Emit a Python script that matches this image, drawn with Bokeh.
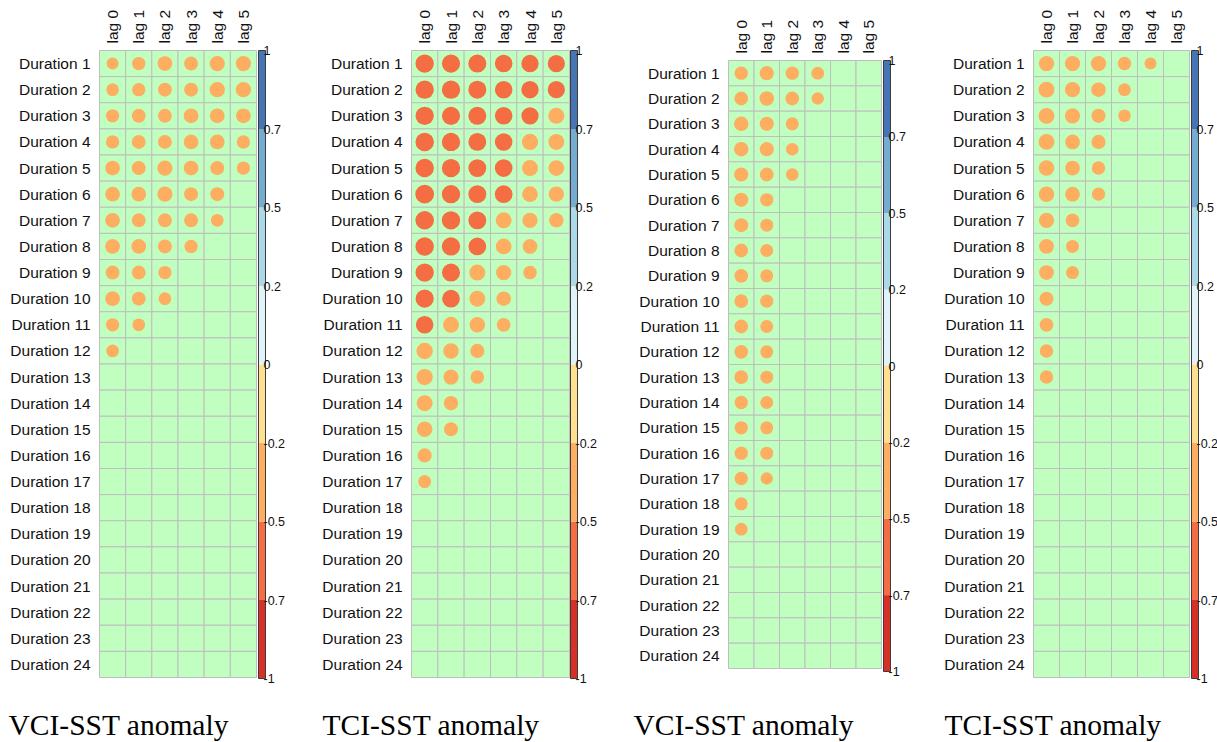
import numpy as np
from bokeh.plotting import figure
from bokeh.models import ColumnDataSource, Range1d
from bokeh.core.properties import value
from bokeh.layouts import row
from bokeh.embed import file_html
from bokeh.resources import INLINE

lags = ["lag 0", "lag 1", "lag 2", "lag 3", "lag 4", "lag 5"]
durations = ["Duration %d" % i for i in range(1, 25)]
titles = ["VCI-SST anomaly", "TCI-SST anomaly", "VCI-SST anomaly", "TCI-SST anomaly"]

# significant correlation coefficients per duration (row), starting at lag 0
vci_sst_a = [
    [-0.26, -0.32, -0.39, -0.35, -0.42, -0.42],
    [-0.29, -0.32, -0.35, -0.35, -0.42, -0.42],
    [-0.32, -0.35, -0.35, -0.39, -0.39, -0.39],
    [-0.32, -0.35, -0.35, -0.39, -0.39, -0.32],
    [-0.39, -0.35, -0.42, -0.39, -0.35, -0.32],
    [-0.39, -0.39, -0.42, -0.35, -0.35],
    [-0.39, -0.35, -0.35, -0.35, -0.29],
    [-0.39, -0.39, -0.35, -0.32],
    [-0.35, -0.35, -0.32],
    [-0.39, -0.35, -0.29],
    [-0.32, -0.29],
    [-0.29],
]
tci_sst_a = [
    [-0.60, -0.59, -0.58, -0.55, -0.54, -0.53],
    [-0.60, -0.60, -0.58, -0.55, -0.54, -0.53],
    [-0.60, -0.59, -0.58, -0.55, -0.53, -0.46],
    [-0.61, -0.60, -0.57, -0.55, -0.47, -0.45],
    [-0.61, -0.60, -0.57, -0.56, -0.46, -0.44],
    [-0.62, -0.60, -0.57, -0.56, -0.44, -0.42],
    [-0.61, -0.60, -0.57, -0.45, -0.42, -0.37],
    [-0.61, -0.60, -0.56, -0.44, -0.39],
    [-0.60, -0.58, -0.46, -0.42, -0.33],
    [-0.59, -0.56, -0.45, -0.38],
    [-0.55, -0.45, -0.43, -0.34],
    [-0.48, -0.43, -0.36],
    [-0.47, -0.41, -0.33],
    [-0.45, -0.37],
    [-0.43, -0.35],
    [-0.36],
    [-0.30],
]
vci_sst_b = [
    [-0.34, -0.38, -0.34, -0.31],
    [-0.36, -0.40, -0.36, -0.29],
    [-0.40, -0.38, -0.33],
    [-0.40, -0.38, -0.30],
    [-0.38, -0.36, -0.30],
    [-0.38, -0.34],
    [-0.37, -0.32],
    [-0.36, -0.32],
    [-0.36, -0.32],
    [-0.36, -0.33],
    [-0.36, -0.32],
    [-0.36, -0.32],
    [-0.36, -0.32],
    [-0.34, -0.32],
    [-0.34, -0.32],
    [-0.34, -0.32],
    [-0.34, -0.29],
    [-0.32],
    [-0.31],
]
tci_sst_b = [
    [-0.43, -0.43, -0.43, -0.33, -0.26],
    [-0.46, -0.42, -0.39, -0.30],
    [-0.46, -0.42, -0.37, -0.29],
    [-0.46, -0.40, -0.37],
    [-0.44, -0.40, -0.33],
    [-0.44, -0.40, -0.32],
    [-0.42, -0.34],
    [-0.40, -0.31],
    [-0.40, -0.31],
    [-0.36],
    [-0.35],
    [-0.33],
    [-0.33],
]
panel_data = [vci_sst_a, tci_sst_a, vci_sst_b, tci_sst_b]

bar_ticks = [-1, -0.75, -0.5, -0.25, 0, 0.25, 0.5, 0.75, 1]
bar_labels = ["-1", "-0.7", "-0.5", "-0.2", "0", "0.2", "0.5", "0.7", "1"]
palette = ["#D73027", "#F46D43", "#FDAE61", "#FEE090",
           "#E0F3F8", "#ABD9E9", "#74ADD1", "#4575B4"]

# pixel geometry of each panel (x relative to the panel's own left edge)
geometry = [
    dict(fig_w=305, grid_l=99, grid_w=157, grid_t=50, grid_b=677,
         bar_l=258, bar_t=50, bar_b=678, title_x=8),
    dict(fig_w=315, grid_l=106, grid_w=158, grid_t=50, grid_b=677,
         bar_l=265, bar_t=50, bar_b=678, title_x=17),
    dict(fig_w=310, grid_l=108, grid_w=153, grid_t=60, grid_b=668,
         bar_l=263, bar_t=60, bar_b=671, title_x=13),
    dict(fig_w=287, grid_l=103, grid_w=156, grid_t=50, grid_b=677,
         bar_l=261, bar_t=50, bar_b=678, title_x=14),
]
PAGE_H = 742
TITLE_MID = 724       # vertical centre of the panel captions, px from the top
BAR_W = 7
LAG_GAP = 7
ROW_GAP = 9
SANS = "Liberation Sans"
SERIF = "Liberation Serif"


def bin_colour(r):
    edges = np.linspace(-1, 1, len(palette) + 1)
    k = int(np.clip(np.searchsorted(edges, r, side="right") - 1, 0, len(palette) - 1))
    return palette[k]


def make_panel(values, title, g):
    n_lag, n_dur = len(lags), len(durations)

    # data units per pixel along each direction
    ux = n_lag / g["grid_w"]
    uy = n_dur / (g["grid_b"] - g["grid_t"])
    uc = 2.0 / (g["bar_b"] - g["bar_t"])

    # the plot frame covers the whole panel
    x_start = -0.5 - g["grid_l"] * ux
    x_end = n_lag - 0.5 + (g["fig_w"] - g["grid_l"] - g["grid_w"]) * ux
    y_top = 0.5 - g["grid_t"] * uy
    y_bot = n_dur + 0.5 + (PAGE_H - g["grid_b"]) * uy
    c_top = 1 + g["bar_t"] * uc
    c_bot = -1 - (PAGE_H - g["bar_b"]) * uc

    p = figure(width=g["fig_w"], height=PAGE_H,
               x_range=Range1d(x_start, x_end),
               y_range=Range1d(y_bot, y_top),
               x_axis_location=None, y_axis_location=None,
               min_border=0, output_backend="svg", toolbar_location=None)
    p.extra_y_ranges = {"cb": Range1d(c_bot, c_top)}
    p.outline_line_color = None
    p.xgrid.visible = False
    p.ygrid.visible = False
    p.background_fill_color = "white"
    p.border_fill_color = "white"

    # background cells
    cx, cy = np.meshgrid(np.arange(n_lag), np.arange(1, n_dur + 1))
    p.rect(x=cx.ravel(), y=cy.ravel(), width=1, height=1,
           fill_color="#C1FFC1", line_color="#BEBEBE", line_width=1)

    # circles: area proportional to |r|, colour from the binned scale
    xs, ys, rs = [], [], []
    for i, row_vals in enumerate(values):
        for j, r in enumerate(row_vals):
            xs.append(j)
            ys.append(i + 1)
            rs.append(r)
    rs = np.array(rs)
    src = ColumnDataSource(dict(x=xs, y=ys, r=rs,
                                rad=0.45 * np.sqrt(np.abs(rs)),
                                col=[bin_colour(r) for r in rs]))
    p.circle(x="x", y="y", radius="rad", source=src,
             fill_color="col", line_color=None)

    # row labels to the left of the grid
    p.text(x=[-0.5 - ROW_GAP * ux] * n_dur, y=list(range(1, n_dur + 1)),
           text=durations, text_font=value(SANS), text_font_size=value("15.5px"),
           text_color="#111111", text_align="right", text_baseline="middle")

    # column labels, written upwards above each column
    p.text(x=list(range(n_lag)), y=[0.5 - LAG_GAP * uy] * n_lag, text=lags,
           angle=np.pi / 2, text_font=value(SANS), text_font_size=value("15.5px"),
           text_color="#111111", text_align="left", text_baseline="middle")

    # colour legend bar
    edges = np.linspace(-1, 1, len(palette) + 1)
    b_l = -0.5 + (g["bar_l"] - g["grid_l"]) * ux
    b_r = b_l + BAR_W * ux
    p.quad(left=b_l, right=b_r, bottom=edges[:-1], top=edges[1:],
           fill_color=palette, line_color=None, y_range_name="cb")
    p.quad(left=b_l, right=b_r, bottom=-1, top=1, fill_color=None,
           line_color="#3C3C3C", line_width=1, y_range_name="cb")
    p.text(x=[b_r - 2 * ux] * len(bar_ticks), y=bar_ticks, text=bar_labels,
           y_range_name="cb", text_font=value(SANS),
           text_font_size=value("12.5px"), text_color="#111111",
           text_baseline="middle", text_align="left")

    # caption under the panel
    p.text(x=[x_start + g["title_x"] * ux],
           y=[n_dur + 0.5 + (TITLE_MID - g["grid_b"]) * uy], text=[title],
           text_font=value(SERIF), text_font_size=value("29.5px"),
           text_color="black", text_align="left", text_baseline="middle")
    return p


figs = [make_panel(v, t, g) for v, t, g in zip(panel_data, titles, geometry)]
page = row(*figs, spacing=0)

open("out.html", "w").write(file_html(page, INLINE))
